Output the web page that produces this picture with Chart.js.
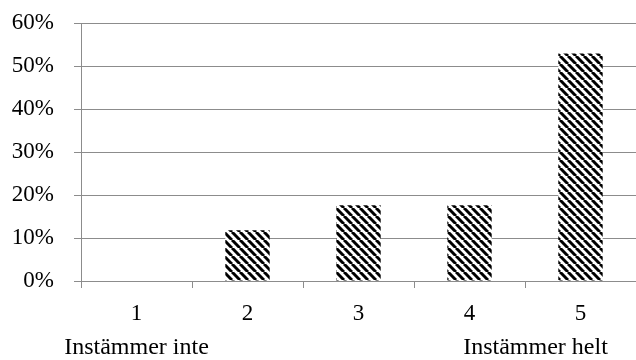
<!DOCTYPE html>
<html lang="sv">
<head>
    <meta charset="UTF-8">
    <title>Instämmer</title>
    <script src="https://cdn.jsdelivr.net/npm/chart.js"></script>
    <style>
        * { margin: 0; padding: 0; box-sizing: border-box; }
        body { background: #fff; width: 636px; height: 360px; overflow: hidden; }
        .chart-container { width: 636px; height: 360px; }
    </style>
</head>
<body>
    <div class="chart-container">
        <canvas id="answerChart" width="636" height="360"></canvas>
    </div>
<script>
    const categories = ['1', '2', '3', '4', '5'];
    const shares = [0, 11.8, 17.6, 17.6, 52.9];
    const yTicks = [0, 10, 20, 30, 40, 50, 60];
    const scaleLow = 'Instämmer inte';
    const scaleHigh = 'Instämmer helt';

    const serif = '"Liberation Serif", "Times New Roman", serif';

    // diagonal black stripes like the original fill
    function stripes() {
        const s = 8;
        const c = document.createElement('canvas');
        c.width = s; c.height = s;
        const g = c.getContext('2d');
        g.fillStyle = '#fff';
        g.fillRect(0, 0, s, s);
        g.strokeStyle = '#000';
        g.lineWidth = 3;
        for (let k = -1; k <= 1; k++) {
            g.beginPath();
            g.moveTo(k * s, 0);
            g.lineTo(k * s + s, s);
            g.stroke();
        }
        return g.createPattern(c, 'repeat');
    }

    // the two end captions under the category numbers
    const endCaptions = {
        id: 'endCaptions',
        afterDraw(chart) {
            const x = chart.scales.x;
            const ctx = chart.ctx;
            ctx.save();
            ctx.font = '24px ' + serif;
            ctx.fillStyle = '#000';
            ctx.textBaseline = 'middle';
            ctx.textAlign = 'center';
            ctx.fillText(scaleLow, x.getPixelForValue(0), 348);
            ctx.fillText(scaleHigh, x.getPixelForValue(4) - 45, 348);
            ctx.restore();
        }
    };

    const ctx = document.getElementById('answerChart').getContext('2d');
    new Chart(ctx, {
        type: 'bar',
        data: {
            labels: categories,
            datasets: [{
                data: shares,
                backgroundColor: stripes(),
                borderWidth: 0,
                categoryPercentage: 0.4,
                barPercentage: 1
            }]
        },
        options: {
            responsive: false,
            animation: false,
            layout: { padding: { top: 23, right: 0, left: 0, bottom: 0 } },
            plugins: { legend: { display: false }, tooltip: { enabled: false } },
            scales: {
                y: {
                    min: 0,
                    max: 60,
                    afterBuildTicks: (axis) => { axis.ticks = yTicks.map(v => ({ value: v })); },
                    afterFit: (axis) => { axis.width = 81; axis.paddingTop = 0; axis.paddingBottom = 0; },
                    ticks: {
                        color: '#000',
                        font: { family: serif, size: 23 },
                        padding: 20,
                        callback: (v) => v + '%'
                    },
                    grid: { color: '#8c8c8c', lineWidth: 1, tickLength: 7 },
                    border: { color: '#8c8c8c', width: 1 }
                },
                x: {
                    afterFit: (axis) => { axis.height = 79; axis.paddingLeft = 0; axis.paddingRight = 0; },
                    ticks: {
                        color: '#000',
                        font: { family: serif, size: 23 },
                        padding: 12,
                        maxRotation: 0
                    },
                    grid: { offset: true, drawOnChartArea: false, color: '#8c8c8c', tickLength: 7 },
                    border: { color: '#8c8c8c', width: 1 }
                }
            }
        },
        plugins: [endCaptions]
    });
</script>
</body>
</html>
